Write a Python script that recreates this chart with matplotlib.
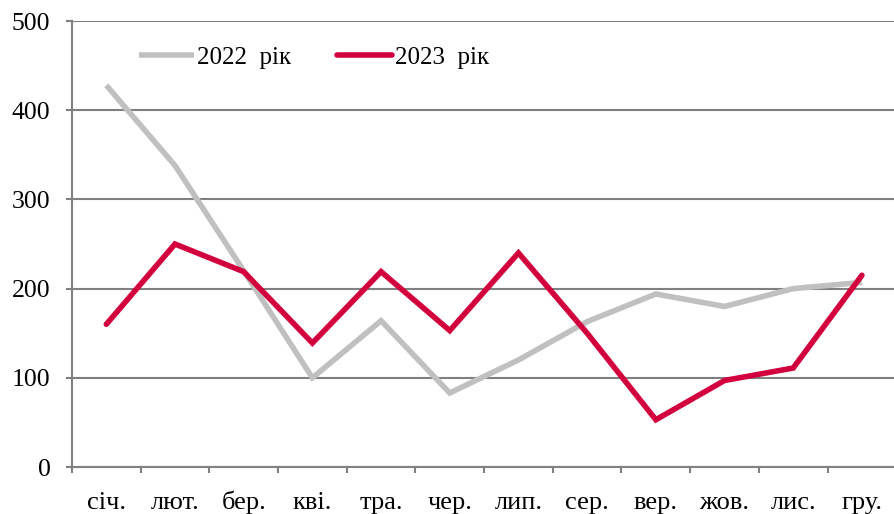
import numpy as np
import matplotlib
matplotlib.use("Agg")
import matplotlib.pyplot as plt

# Months (Ukrainian abbreviations)
months = ["січ.", "лют.", "бер.", "кві.", "тра.", "чер.",
          "лип.", "сер.", "вер.", "жов.", "лис.", "гру."]

# Values
y2022 = [428, 338, 220, 100, 164, 83, 120, 163, 194, 180, 200, 207]
y2023 = [160, 250, 219, 139, 219, 153, 240, 150, 53, 97, 111, 215]

plt.rcParams['font.family'] = ['Liberation Serif', 'DejaVu Serif']

fig = plt.figure(figsize=(8.95, 5.14), dpi=100)
ax = fig.add_axes([0.0804, 0.0914, 0.921, 0.8677])

x = np.arange(len(months))
ax.plot(x, y2022, color="#C0C0C0", lw=4, label="2022  рік",
        solid_joinstyle="miter", solid_capstyle="butt", zorder=3)
ax.plot(x, y2023, color="#D2003C", lw=4, label="2023  рік",
        solid_joinstyle="miter", solid_capstyle="round", zorder=4)

ax.set_xlim(-0.5, len(months) - 0.5)
ax.set_ylim(0, 500)
ax.set_yticks(np.arange(0, 501, 100))
ax.yaxis.grid(True, color="#808080", lw=1.5)
ax.set_axisbelow(True)

ax.set_xticks(x)
ax.set_xticklabels(months)
ax.set_xticks(np.arange(-0.5, len(months) + 0.5, 1), minor=True)
ax.tick_params(axis="x", which="major", length=0, pad=30, labelsize=19)
ax.tick_params(axis="x", which="minor", length=4.5, width=1.5, color="#808080")
ax.tick_params(axis="y", length=4.5, width=1.5, color="#808080", pad=11,
               labelsize=18.5)
for lab in ax.get_xticklabels():
    lab.set_verticalalignment("baseline")

for s in ["top", "right"]:
    ax.spines[s].set_visible(False)
for s in ["left", "bottom"]:
    ax.spines[s].set_color("#808080")
    ax.spines[s].set_linewidth(1.5)

leg = ax.legend(loc="center left", bbox_to_anchor=(0.081, 0.918), ncol=2,
                fontsize=18, handlelength=2.2, handletextpad=0.12,
                columnspacing=1.85, frameon=False, borderpad=0,
                borderaxespad=0)

fig.savefig("out.png", dpi=100)
